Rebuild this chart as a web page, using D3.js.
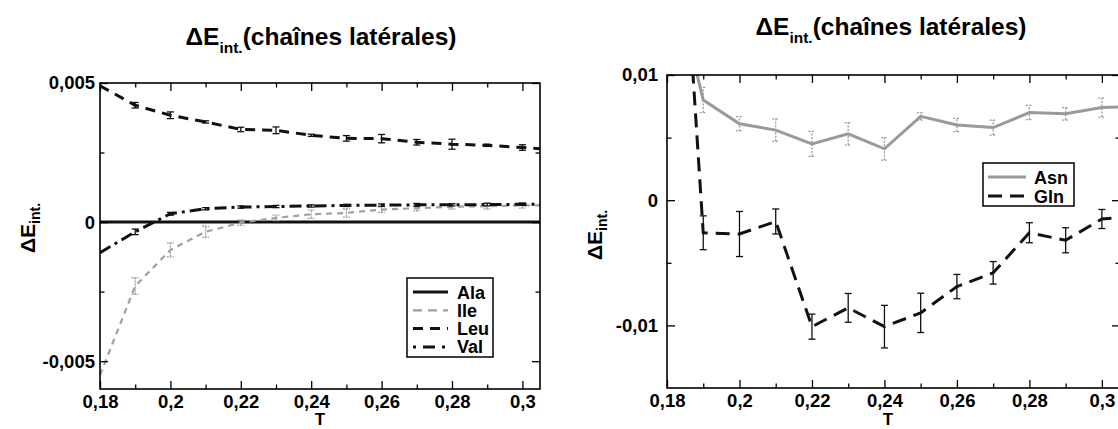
<!DOCTYPE html>
<html><head><meta charset="utf-8">
<script src="https://cdn.jsdelivr.net/npm/d3@7"></script>
<style>
body{margin:0;background:#fff}
svg{display:block}
text{font-family:"Liberation Sans",Arial,Helvetica,sans-serif;font-weight:bold;fill:#000}
</style>
</head><body>
<svg id="c" width="1118" height="429"></svg>
<script>
// ---------- data ----------
const tempsL = [0.18,0.19,0.20,0.21,0.22,0.23,0.24,0.25,0.26,0.27,0.28,0.29,0.30,0.31];
const ala    = [0,0,0,0,0,0,0,0,0,0,0,0,0,0];
const ile    = [-0.0055,-0.0023,-0.001,-0.00035,-0.00002,0.00015,0.00028,0.00033,0.00045,0.0005,0.00055,0.00057,0.0006,0.0006];
const ileErr = [0,0.0003,0.00025,0.0002,0.0001,0.0001,0.00015,0.00015,0.0001,0.0001,0.00008,0.0001,0.0001,0];
const leu    = [0.0049,0.0042,0.00384,0.0036,0.00333,0.0033,0.00312,0.00301,0.003,0.00287,0.0028,0.00276,0.00268,0.0026];
const leuErr = [0,0.0001,0.00012,0.00004,0.00008,0.00012,0.00004,0.0001,0.00015,0.0001,0.00018,0.00004,0.0001,0];
const val    = [-0.0011,-0.00035,0.0003,0.00048,0.00054,0.00056,0.00058,0.0006,0.00061,0.00062,0.00062,0.00063,0.00064,0.00065];
const valErr = [0,0.0001,0.00005,0.00004,0.00004,0.00004,0.00004,0.00004,0.00004,0.00005,0.00004,0.00005,0.00004,0];

const tempsR = [0.18,0.19,0.20,0.21,0.22,0.23,0.24,0.25,0.26,0.27,0.28,0.29,0.30,0.31];
const asn    = [0.02,0.0080,0.0061,0.0056,0.0045,0.0053,0.0041,0.0067,0.0060,0.0058,0.0070,0.0069,0.0074,0.0075];
const asnErr = [0,0.001,0.00057,0.0009,0.001,0.0009,0.0009,0.0003,0.00053,0.0006,0.00057,0.0005,0.00076,0];
const gln    = [0.042,-0.0026,-0.0027,-0.0017,-0.0101,-0.0086,-0.0101,-0.009,-0.0069,-0.0058,-0.0026,-0.0032,-0.0015,-0.0013];
const glnErr = [0,0.00135,0.0018,0.001,0.001,0.00115,0.0017,0.00157,0.00097,0.0009,0.0008,0.001,0.00076,0];

const xMajor = [0.18,0.20,0.22,0.24,0.26,0.28,0.30];
const xMajorLabels = ["0,18","0,2","0,22","0,24","0,26","0,28","0,3"];
const xMinor = [0.19,0.21,0.23,0.25,0.27,0.29];
const yMajorL = [-0.005,0,0.005];
const yMajorLabelsL = ["-0,005","0","0,005"];
const yMinorL = [-0.0025,0.0025];
const yMajorR = [-0.01,0,0.01];
const yMajorLabelsR = ["-0,01","0","0,01"];
const yMinorR = [-0.005,0.005];

const titleMain = "ΔE", titleSub = "int.", titleRest = "(chaînes latérales)";
const xTitle = "T";

// ---------- drawing ----------
const svg = d3.select("#c");
const FONT = '"Liberation Sans",Arial,sans-serif';

function panel(cfg){
  const x = d3.scaleLinear().domain(cfg.xDomain).range([cfg.x0,cfg.x1]);
  const y = d3.scaleLinear().domain(cfg.yDomain).range([cfg.y1,cfg.y0]);
  const g = svg.append("g");
  const clipId = "clip"+cfg.id;
  svg.append("defs").append("clipPath").attr("id",clipId)
    .append("rect").attr("x",cfg.x0).attr("y",cfg.y0).attr("width",cfg.x1-cfg.x0).attr("height",cfg.y1-cfg.y0);

  const plot = g.append("g").attr("clip-path",`url(#${clipId})`);
  cfg.series.forEach(s=>{
    const pts = cfg.xs.map((t,i)=>({t, v:s.values[i], e:s.err?s.err[i]:0}));
    if(s.err){
      const eb = plot.append("g").attr("stroke",s.errColor||s.color).attr("stroke-width",1.3)
        .attr("stroke-dasharray",s.errDash||null);
      pts.filter(p=>p.e>0).forEach(p=>{
        const cx = x(p.t), ya=y(p.v-p.e), yb=y(p.v+p.e);
        eb.append("line").attr("x1",cx).attr("x2",cx).attr("y1",ya).attr("y2",yb);
        eb.append("line").attr("x1",cx-3.5).attr("x2",cx+3.5).attr("y1",ya).attr("y2",ya);
        eb.append("line").attr("x1",cx-3.5).attr("x2",cx+3.5).attr("y1",yb).attr("y2",yb);
      });
    }
    plot.append("path").datum(pts)
      .attr("fill","none").attr("stroke",s.color).attr("stroke-width",s.width)
      .attr("stroke-dasharray",s.dash||null)
      .attr("d",d3.line().x(p=>x(p.t)).y(p=>y(p.v)));
  });

  const fs = "18.5px";
  const bottom = g.append("g").attr("transform",`translate(0,${cfg.y1})`)
    .call(d3.axisBottom(x).tickValues(xMajor).tickSize(-8).tickPadding(6)
      .tickFormat((d,i)=>xMajorLabels[i]));
  const bottomMin = g.append("g").attr("transform",`translate(0,${cfg.y1})`)
    .call(d3.axisBottom(x).tickValues(xMinor).tickSize(-4.5).tickFormat(""));
  const top = g.append("g").attr("transform",`translate(0,${cfg.y0})`)
    .call(d3.axisTop(x).tickValues(xMajor).tickSize(-8).tickFormat(""));
  const topMin = g.append("g").attr("transform",`translate(0,${cfg.y0})`)
    .call(d3.axisTop(x).tickValues(xMinor).tickSize(-4.5).tickFormat(""));
  const left = g.append("g").attr("transform",`translate(${cfg.x0},0)`)
    .call(d3.axisLeft(y).tickValues(cfg.yMajor).tickSize(-8).tickPadding(cfg.yPad)
      .tickFormat((d,i)=>cfg.yLabels[i]));
  const leftMin = g.append("g").attr("transform",`translate(${cfg.x0},0)`)
    .call(d3.axisLeft(y).tickValues(cfg.yMinor).tickSize(-4.5).tickFormat(""));
  const right = g.append("g").attr("transform",`translate(${cfg.x1},0)`)
    .call(d3.axisRight(y).tickValues(cfg.yMajor).tickSize(-8).tickFormat(""));
  const rightMin = g.append("g").attr("transform",`translate(${cfg.x1},0)`)
    .call(d3.axisRight(y).tickValues(cfg.yMinor).tickSize(-4.5).tickFormat(""));
  [bottom,bottomMin,top,topMin,left,leftMin,right,rightMin].forEach(a=>{
    a.select(".domain").remove();
    a.selectAll("line").attr("stroke","#000").attr("stroke-width",1.3);
    a.selectAll("text").attr("font-size",fs).attr("font-family",null).style("font-family",FONT).style("font-weight","bold");
  });
  g.append("rect").attr("x",cfg.x0).attr("y",cfg.y0).attr("width",cfg.x1-cfg.x0).attr("height",cfg.y1-cfg.y0)
    .attr("fill","none").attr("stroke","#000").attr("stroke-width",1.6);

  // title
  const tt = g.append("text").attr("x",cfg.titleX).attr("y",cfg.titleY).attr("text-anchor","middle").attr("font-size","24.5px");
  tt.append("tspan").text(titleMain);
  tt.append("tspan").attr("font-size","15.5px").attr("dy",8).text(titleSub);
  tt.append("tspan").attr("dy",-8).text(titleRest);

  // x label
  g.append("text").attr("x",cfg.xTitleX).attr("y",425).attr("text-anchor","middle").attr("font-size","17px").text(xTitle);

  // y label
  const yl = g.append("text").attr("transform",`translate(${cfg.yTitleX},${cfg.yTitleY}) rotate(-90)`)
    .attr("text-anchor","middle").attr("font-size","21px");
  yl.append("tspan").text(titleMain);
  yl.append("tspan").attr("font-size","14px").attr("dy",5).text(titleSub);

  // legend
  const L = cfg.legend;
  const lg = g.append("g");
  lg.append("rect").attr("x",L.x).attr("y",L.y).attr("width",L.w).attr("height",L.h)
    .attr("fill","#fff").attr("stroke","#000").attr("stroke-width",1.5);
  cfg.series.filter(s=>s.name).forEach((s,i)=>{
    const yy = L.y + L.first + i*L.step;
    lg.append("line").attr("x1",L.x+L.lx0).attr("x2",L.x+L.lx1).attr("y1",yy).attr("y2",yy)
      .attr("stroke",s.color).attr("stroke-width",s.width).attr("stroke-dasharray",s.legendDash||s.dash||null);
    lg.append("text").attr("x",L.x+L.tx).attr("y",yy+6.5).attr("font-size","18px").text(s.name);
  });
}

panel({
  id:"L", x0:100, x1:540, y0:83, y1:389,
  xDomain:[0.18,0.305], yDomain:[-0.006,0.005],
  xs:tempsL, yMajor:yMajorL, yLabels:yMajorLabelsL, yMinor:yMinorL, yPad:5,
  titleX:321, titleY:45, xTitleX:320, yTitleX:35, yTitleY:228,
  series:[
    {name:"Ala", values:ala, color:"#111", width:3},
    {name:"Ile", values:ile, err:ileErr, color:"#a0a0a0", width:2.2, dash:"6,5", legendDash:"9,6", errDash:"2,1"},
    {name:"Leu", values:leu, err:leuErr, color:"#111", width:3, dash:"10,7"},
    {name:"Val", values:val, err:valErr, color:"#111", width:3, dash:"12,5,3,5", legendDash:"3,7,12,7"}
  ],
  legend:{x:407, y:278, w:86, h:79, first:14, step:18.3, lx0:6, lx1:41, tx:50}
});

panel({
  id:"R", x0:667, x1:1120, y0:75, y1:388,
  xDomain:[0.18,0.305], yDomain:[-0.015,0.01],
  xs:tempsR, yMajor:yMajorR, yLabels:yMajorLabelsR, yMinor:yMinorR, yPad:9,
  titleX:891, titleY:35, xTitleX:888, yTitleX:602, yTitleY:235,
  series:[
    {name:"Asn", values:asn, err:asnErr, color:"#9a9a9a", width:3, errDash:"2,1.5"},
    {name:"Gln", values:gln, err:glnErr, color:"#111", width:3, dash:"14,8"}
  ],
  legend:{x:983, y:163, w:91, h:43, first:14, step:19, lx0:5, lx1:43, tx:51}
});
</script>
</body></html>
